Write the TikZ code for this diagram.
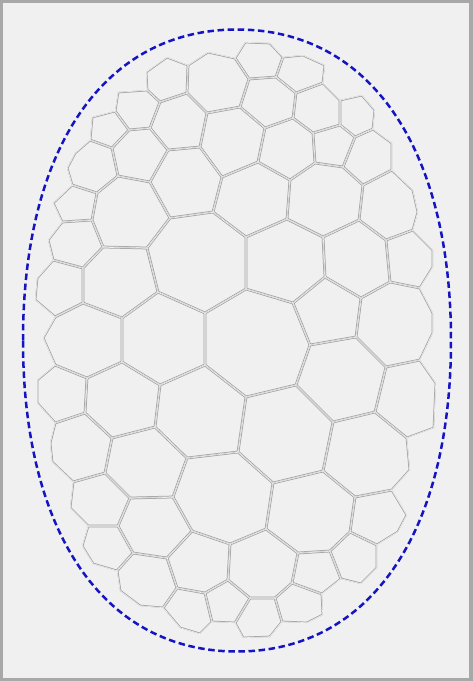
\documentclass[tikz,border=0pt]{standalone}
\usetikzlibrary{calc}
\definecolor{bgc}{RGB}{240,240,240}
\definecolor{framec}{RGB}{168,168,168}
\definecolor{linec}{RGB}{160,160,160}
\definecolor{ellc}{RGB}{20,20,195}
\tikzset{
  cellline/.style={draw=linec, line width=2.7pt, line join=round},
  cellgap/.style={draw=bgc, line width=1.2pt, line join=round},
  outline/.style={draw=ellc, line width=2.5pt, dash pattern=on 6.5pt off 3.6pt},
}
\newcommand{\vcell}[1]{\begin{scope}\clip #1 -- cycle;\draw[cellline] #1 -- cycle;\draw[cellgap] #1 -- cycle;\end{scope}}
\begin{document}
\begin{tikzpicture}[x=1pt,y=-1pt]
\useasboundingbox (0,0) rectangle (473,681);
\fill[framec] (0,0) rectangle (473,681);
\fill[bgc] (3,3) rectangle (469,678);
% cells
\vcell{(146,72) -- (167,57) -- (188,65) -- (187,93) -- (160,102) -- (147,90)}
\vcell{(188,65) -- (208,52) -- (235,58) -- (249,79) -- (240,107) -- (207,113) -- (187,93)}
\vcell{(235,58) -- (245,42) -- (270,43) -- (283,57) -- (276,77) -- (249,79)}
\vcell{(283,57) -- (303,55) -- (325,65) -- (323,83) -- (296,93) -- (276,77)}
\vcell{(118,92) -- (147,90) -- (160,102) -- (150,128) -- (129,130) -- (115,111)}
\vcell{(92,117) -- (115,111) -- (129,130) -- (112,148) -- (90,140)}
\vcell{(90,140) -- (112,148) -- (118,176) -- (97,193) -- (72,185) -- (67,168) -- (75,153)}
\vcell{(129,130) -- (150,128) -- (168,150) -- (150,182) -- (118,176) -- (112,148)}
\vcell{(160,102) -- (187,93) -- (207,113) -- (200,147) -- (168,150) -- (150,128)}
\vcell{(207,113) -- (240,107) -- (265,128) -- (258,162) -- (222,177) -- (200,147)}
\vcell{(168,150) -- (200,147) -- (222,177) -- (213,212) -- (170,218) -- (150,182)}
\vcell{(97,193) -- (118,176) -- (150,182) -- (170,218) -- (147,248) -- (103,247) -- (92,220)}
\vcell{(53,203) -- (72,185) -- (97,193) -- (92,220) -- (62,222)}
\vcell{(48,240) -- (62,222) -- (92,220) -- (103,247) -- (83,268) -- (53,260)}
\vcell{(249,79) -- (276,77) -- (296,93) -- (293,118) -- (265,128) -- (240,107)}
\vcell{(296,93) -- (323,83) -- (340,100) -- (340,125) -- (313,133) -- (293,118)}
\vcell{(340,100) -- (362,95) -- (375,110) -- (373,129) -- (355,137) -- (340,125)}
\vcell{(265,128) -- (293,118) -- (313,133) -- (315,163) -- (290,180) -- (258,162)}
\vcell{(313,133) -- (340,125) -- (355,137) -- (343,167) -- (315,163)}
\vcell{(355,137) -- (373,129) -- (392,143) -- (392,170) -- (363,185) -- (343,167)}
\vcell{(363,185) -- (392,170) -- (413,190) -- (418,212) -- (413,230) -- (386,240) -- (359,220)}
\vcell{(290,180) -- (315,163) -- (343,167) -- (363,185) -- (359,220) -- (323,237) -- (287,219)}
\vcell{(222,177) -- (258,162) -- (290,180) -- (287,219) -- (246,237) -- (213,212)}
\vcell{(170,218) -- (213,212) -- (246,237) -- (246,289) -- (205,313) -- (158,292) -- (147,248)}
\vcell{(103,247) -- (147,248) -- (158,292) -- (122,318) -- (83,303) -- (83,268)}
\vcell{(53,260) -- (83,268) -- (83,303) -- (55,317) -- (35,300) -- (37,278)}
\vcell{(246,237) -- (287,219) -- (323,237) -- (325,277) -- (293,303) -- (246,289)}
\vcell{(323,237) -- (359,220) -- (386,240) -- (390,282) -- (361,298) -- (325,277)}
\vcell{(386,240) -- (413,230) -- (433,250) -- (433,267) -- (420,288) -- (390,282)}
\vcell{(293,303) -- (325,277) -- (361,298) -- (356,337) -- (310,345)}
\vcell{(361,298) -- (390,282) -- (420,288) -- (433,313) -- (433,333) -- (420,360) -- (386,367) -- (356,337)}
\vcell{(310,345) -- (356,337) -- (386,367) -- (375,412) -- (333,422) -- (296,385)}
\vcell{(386,367) -- (420,360) -- (436,383) -- (434,428) -- (407,438) -- (375,412)}
\vcell{(55,317) -- (83,303) -- (122,318) -- (122,362) -- (87,378) -- (55,365) -- (43,338)}
\vcell{(122,318) -- (158,292) -- (205,313) -- (205,365) -- (160,385) -- (122,362)}
\vcell{(205,313) -- (246,289) -- (293,303) -- (310,345) -- (296,385) -- (246,397) -- (205,365)}
\vcell{(55,365) -- (87,378) -- (85,413) -- (55,423) -- (37,403) -- (37,380)}
\vcell{(87,378) -- (122,362) -- (160,385) -- (155,427) -- (112,438) -- (85,413)}
\vcell{(160,385) -- (205,365) -- (246,397) -- (238,452) -- (187,458) -- (155,427)}
\vcell{(246,397) -- (296,385) -- (333,422) -- (323,471) -- (273,483) -- (238,452)}
\vcell{(333,422) -- (375,412) -- (407,438) -- (410,470) -- (392,490) -- (355,497) -- (323,471)}
\vcell{(55,423) -- (85,413) -- (112,438) -- (105,473) -- (73,482) -- (52,462) -- (50,443)}
\vcell{(112,438) -- (155,427) -- (187,458) -- (173,497) -- (130,498) -- (105,473)}
\vcell{(187,458) -- (238,452) -- (273,483) -- (266,529) -- (230,544) -- (192,531) -- (173,497)}
\vcell{(273,483) -- (323,471) -- (355,497) -- (350,532) -- (330,551) -- (298,553) -- (266,529)}
\vcell{(355,497) -- (392,490) -- (407,515) -- (398,532) -- (377,545) -- (350,532)}
\vcell{(73,482) -- (105,473) -- (130,498) -- (118,526) -- (88,526) -- (70,508)}
\vcell{(130,498) -- (173,497) -- (192,531) -- (167,558) -- (133,553) -- (118,526)}
\vcell{(88,526) -- (118,526) -- (133,553) -- (117,571) -- (93,564) -- (82,546)}
\vcell{(133,553) -- (167,558) -- (177,588) -- (163,608) -- (140,606) -- (120,591) -- (117,571)}
\vcell{(192,531) -- (230,544) -- (228,580) -- (205,593) -- (177,588) -- (167,558)}
\vcell{(230,544) -- (266,529) -- (298,553) -- (292,583) -- (275,598) -- (250,598) -- (228,580)}
\vcell{(350,532) -- (377,545) -- (377,568) -- (361,584) -- (341,579) -- (330,551)}
\vcell{(298,553) -- (330,551) -- (341,579) -- (322,594) -- (292,583)}
\vcell{(177,588) -- (205,593) -- (212,622) -- (200,634) -- (180,628) -- (163,608)}
\vcell{(205,593) -- (228,580) -- (250,598) -- (235,623) -- (212,622)}
\vcell{(250,598) -- (275,598) -- (282,622) -- (270,637) -- (243,638) -- (235,623)}
\vcell{(275,598) -- (292,583) -- (322,594) -- (323,615) -- (307,623) -- (282,622)}
% dashed outline
\coordinate (eL) at (23,340.5);
\coordinate (eT) at (237,29.5);
\coordinate (eR) at (451,340.5);
\coordinate (eB) at (237,651.5);
\draw[outline] (eL) .. controls (23,147.7) and (104.3,29.5) .. (eT)
  .. controls (369.7,29.5) and (451,147.7) .. (eR)
  .. controls (451,533.3) and (369.7,651.5) .. (eB)
  .. controls (104.3,651.5) and (23,533.3) .. (eL) -- cycle;
\end{tikzpicture}
\end{document}
